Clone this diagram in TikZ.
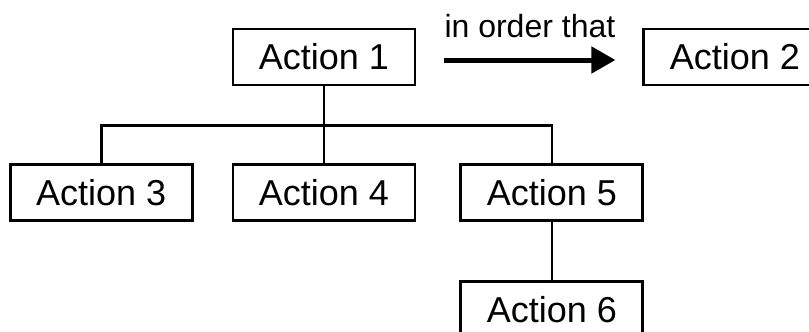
\documentclass[tikz,border=0pt]{standalone}
\usepackage{fontspec}
\setmainfont{Liberation Sans}
\usetikzlibrary{arrows.meta,positioning}
\tikzset{
    %Define standard arrow tip
    >={Triangle[length=12pt,width=13pt]},
    %Define style for boxes
    action/.style={
           rectangle,
           draw=black, line width=1.4pt,
           minimum width=91pt,
           minimum height=28pt,
           font=\fontsize{18}{20}\selectfont,
           text centered},
    % Define line styles
    branch/.style={
           line width=1.3pt},
    order/.style={
           ->,
           line width=2.5pt}
}
\begin{document}
\begin{tikzpicture}[x=0.5pt,y=-0.5pt]
 \useasboundingbox (0,0) rectangle (809,332);
 \clip (0,0) rectangle (809,332);

 %nodes
 \node[action](1) at (324,57){Action 1};
 \node[action, right=113pt of 1](2){Action 2};
 \node[action, below=38.5pt of 1](4){Action 4};
 \node[action, left=19pt of 4](3){Action 3};
 \node[action, right=21.5pt of 4](5){Action 5};
 \node[action, below=29pt of 5](6){Action 6};

 %tree
 \coordinate[below=19.5pt of 1.south] (fork);
 \draw[branch] (3) |- (fork) -| (5);
 \draw[branch] (1) -- (4);
 \draw[branch] (5) -- (6);

 %arrow
 \coordinate[right=14pt of 1.east, yshift=-1.5pt] (from);
 \coordinate[left=13.5pt of 2.west, yshift=-1.5pt] (to);
 \draw[order] (from) -- (to)
    node[midway, above=6.5pt, font=\fontsize{16}{18}\selectfont]{in order that};

\end{tikzpicture}
\end{document}
